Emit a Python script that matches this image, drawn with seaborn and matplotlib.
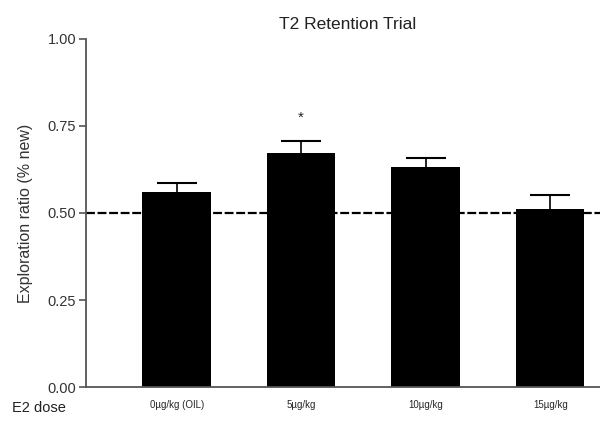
import numpy as np
import pandas as pd
import matplotlib
matplotlib.use('Agg')
import matplotlib.pyplot as plt
import seaborn as sns

# data
doses = ['0µg/kg (OIL)', '5µg/kg', '10µg/kg', '15µg/kg']
means = [0.560, 0.672, 0.632, 0.511]
sems = [0.027, 0.035, 0.027, 0.041]
chance = 0.50

sns.set_theme(style='ticks')
plt.rcParams['font.family'] = ['Liberation Sans', 'DejaVu Sans']

df = pd.DataFrame({'dose': doses, 'ratio': means})

fig = plt.figure(figsize=(6, 4.23), dpi=100)
ax = fig.add_axes([0.143, 0.085, 0.857, 0.823])

ax.axhline(chance, color='black', linestyle=(0, (4, 1.2)), linewidth=1.6, zorder=1)
sns.barplot(data=df, x='dose', y='ratio', color='black', width=0.55,
            errorbar=None, saturation=1, linewidth=0, ax=ax, zorder=2)

# upper-only error bars (stem + cap)
x = np.arange(len(doses))
tops = np.array(means) + np.array(sems)
ax.vlines(x, means, tops, color='black', linewidth=1.2, zorder=3)
ax.hlines(tops, x - 0.16, x + 0.16, color='black', linewidth=1.5, zorder=3)

# significance marker
ax.text(1, tops[1] + 0.045, '*', ha='center', va='bottom', fontsize=11)

ax.set_ylim(0, 1.0)
ax.set_xlim(-0.73, 3.4)
ax.set_yticks([0, 0.25, 0.5, 0.75, 1.0])
ax.set_yticklabels(['0.00', '0.25', '0.50', '0.75', '1.00'], fontsize=10.5, color='#333333')
ax.tick_params(axis='y', length=5, width=1.2, color='#555555', pad=2)
ax.tick_params(axis='x', length=0, labelsize=7, pad=9)
ax.set_xlabel('')
ax.set_ylabel('Exploration ratio (% new)', fontsize=11.5, color='#333333', labelpad=10)
ax.set_title('T2 Retention Trial', fontsize=12.5, color='#222222', pad=7, x=0.51)
for side in ['top', 'right']:
    ax.spines[side].set_visible(False)
for side in ['left', 'bottom']:
    ax.spines[side].set_color('#555555')
    ax.spines[side].set_linewidth(1.3)

fig.text(0.02, 0.025, 'E2 dose', fontsize=10.5, color='#222222')

fig.savefig('out.png', dpi=100, facecolor='white')
